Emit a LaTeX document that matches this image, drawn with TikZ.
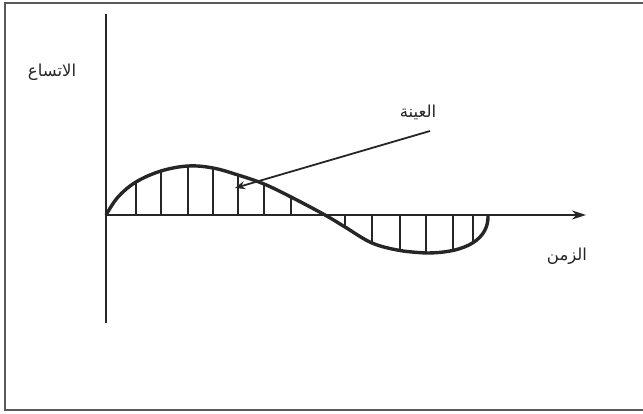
\documentclass[tikz,border=0pt]{standalone}
\usepackage{fontspec}
\newfontfamily\arabicfont[Script=Arabic]{DejaVu Sans}
\TeXXeTstate=1
\usetikzlibrary{arrows.meta}
\tikzset{
  frameline/.style={line width=2.2pt, draw=black!65},
  axisline/.style={line width=2.4pt, draw=black!85},
  wave/.style={line width=3.4pt, draw=black!85, line join=round},
  sampleline/.style={line width=2.3pt, draw=black!85},
  pointer/.style={line width=1.8pt, draw=black!85, -{Stealth[length=10pt,width=8pt]}},
  lbl/.style={font=\arabicfont\fontsize{16.5}{18}\selectfont, text=black!85, inner sep=0pt}
}
\begin{document}
\begin{tikzpicture}[x=1pt,y=-1pt]
\useasboundingbox (0,0) rectangle (643,414);
\fill[white] (0,0) rectangle (643,414);
% frame (right side lies beyond the picture)
\draw[frameline] (643,3) -- (5,3) -- (5,410) -- (643,410);
% axes
\coordinate (vtop) at (106,14);
\coordinate (vbot) at (106,323);
\coordinate (origin) at (106,215);
\coordinate (htip) at (586,215);
\draw[axisline] (vtop) -- (vbot);
\draw[axisline, -{Stealth[length=14pt,width=9pt]}] (origin) -- (htip);
% sample lines
\foreach \x/\y in {136/182,161/171,188/166,213/168,238/175,264/184,291/197,
                   345/227,372/243,400/250,426/253,453/250,473/242.5}{
  \draw[sampleline] (\x,215) -- (\x,\y);
}
% wave
\draw[wave] plot[smooth, tension=0.6] coordinates {(106,215) (118,197) (136,182) (161,171) (188,166) (213,168) (238,175) (264,184) (291,197) (325,215) (345,227) (372,243) (400,250.5) (426,253)}
  .. controls (468,253) and (489,238) .. (488,215);
% labels
\node[lbl] (amp) at (52,72) {\beginR الاتساع\endR};
\node[lbl] (time) at (567,256) {\beginR الزمن\endR};
\node[lbl] (sample) at (418,112) {\beginR العينة\endR};
\coordinate (ptail) at (430,131);
\coordinate (phead) at (235,188);
\draw[pointer] (ptail) -- (phead);
\end{tikzpicture}
\end{document}
